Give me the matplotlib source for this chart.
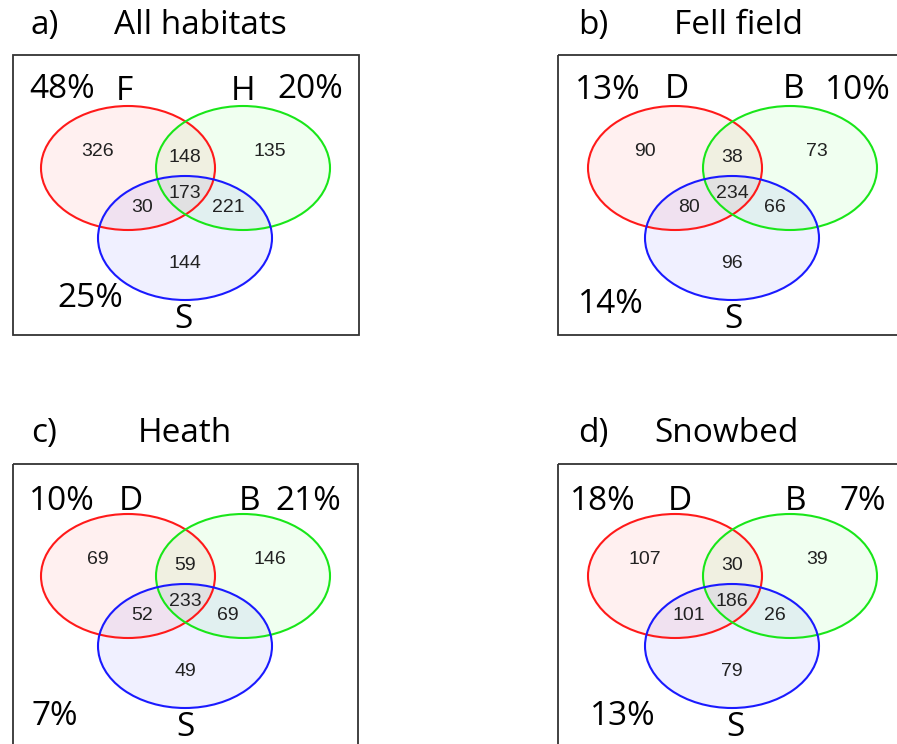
import matplotlib
matplotlib.use("Agg")
import matplotlib.pyplot as plt
from matplotlib.patches import Ellipse, Rectangle

# ---------------- data ----------------
panel_letters = ["a)", "b)", "c)", "d)"]
panel_titles = ["All habitats", "Fell field", "Heath", "Snowbed"]
set_labels = [["F", "H", "S"], ["D", "B", "S"], ["D", "B", "S"], ["D", "B", "S"]]
# region order: only1, 1&2, only2, 1&2&3, 1&3, 2&3, only3
counts_a = [326, 148, 135, 173, 30, 221, 144]
counts_b = [90, 38, 73, 234, 80, 66, 96]
counts_c = [69, 59, 146, 233, 52, 69, 49]
counts_d = [107, 30, 39, 186, 101, 26, 79]
pct_a = ["48%", "20%", "25%"]
pct_b = ["13%", "10%", "14%"]
pct_c = ["10%", "21%", "7%"]
pct_d = ["18%", "7%", "13%"]

counts = [counts_a, counts_b, counts_c, counts_d]
pcts = [pct_a, pct_b, pct_c, pct_d]

# ---------------- layout (pixels) ----------------
W, H = 897, 744
origins = [(128, 168), (675, 168), (128, 576), (675, 576)]  # centre of first ellipse
ell_w, ell_h = 174, 124
ell_offsets = [(0, 0), (115, 0), (57, 70)]
edge_colors = ["#ff1a1a", "#19e619", "#1a1aff"]
fill_colors = [(1, 0, 0, 0.06), (0, 1, 0, 0.06), (0, 0, 1, 0.06)]
region_offsets = [(-30, -16), (57, -11), (142, -16), (57, 25), (14, 40), (100, 40), (57, 95)]
boxes = [(-115, -113, 231, 167), (-117, -113, 240, 167),
         (-115, -112, 230, 175), (-117, -112, 240, 175)]  # left, top, right, bottom offsets
letter_pos = (-97, -134)
title_x = [72, 63, 57, 52]
pct_pos = [
    [(-66, -70), (182, -70), (-38, 139)],
    [(-67, -69), (183, -69), (-64, 145)],
    [(-66, -66), (180, -66), (-73, 149)],
    [(-72, -66), (188, -66), (-52, 149)],
]
lab_pos = [
    [(-4, -68), (115, -68), (55, 160)],
    [(2, -70), (119, -70), (58, 160)],
    [(3, -66), (121, -66), (57, 160)],
    [(5, -66), (121, -66), (60, 160)],
]

BIG = dict(family=["Open Sans", "DejaVu Sans"], fontsize=24, color="black")
NUM = dict(family=["Liberation Sans", "DejaVu Sans"], fontsize=14, color="#222222")

fig = plt.figure(figsize=(W / 100, H / 100), dpi=100)
ax = fig.add_axes([0, 0, 1, 1])
ax.set_xlim(0, W)
ax.set_ylim(H, 0)
ax.axis("off")

for p in range(4):
    ox, oy = origins[p]
    # frame
    l, t, r, b = boxes[p]
    ax.add_patch(Rectangle((ox + l, oy + t), r - l, b - t, fill=False,
                           edgecolor="#333333", lw=1.3, zorder=1))
    # ellipses
    for k in range(3):
        dx, dy = ell_offsets[k]
        ax.add_patch(Ellipse((ox + dx, oy + dy), ell_w, ell_h,
                             facecolor=fill_colors[k], edgecolor="none", zorder=2))
    for k in range(3):
        dx, dy = ell_offsets[k]
        ax.add_patch(Ellipse((ox + dx, oy + dy), ell_w, ell_h,
                             facecolor="none", edgecolor=edge_colors[k], lw=1.5, zorder=3))
    # region counts
    for val, (dx, dy) in zip(counts[p], region_offsets):
        ax.text(ox + dx, oy + dy, str(val), ha="center", va="center", zorder=4, **NUM)
    # percentages
    for s, (dx, dy) in zip(pcts[p], pct_pos[p]):
        ax.text(ox + dx, oy + dy, s, ha="center", va="baseline", zorder=4, **BIG)
    # set labels
    for s, (dx, dy) in zip(set_labels[p], lab_pos[p]):
        ax.text(ox + dx, oy + dy, s, ha="center", va="baseline", zorder=4, **BIG)
    # panel letter and title
    ax.text(ox + letter_pos[0], oy + letter_pos[1], panel_letters[p],
            ha="left", va="baseline", **BIG)
    ax.text(ox + title_x[p], oy + letter_pos[1], panel_titles[p],
            ha="center", va="baseline", **BIG)

fig.savefig("out.png", dpi=100)
